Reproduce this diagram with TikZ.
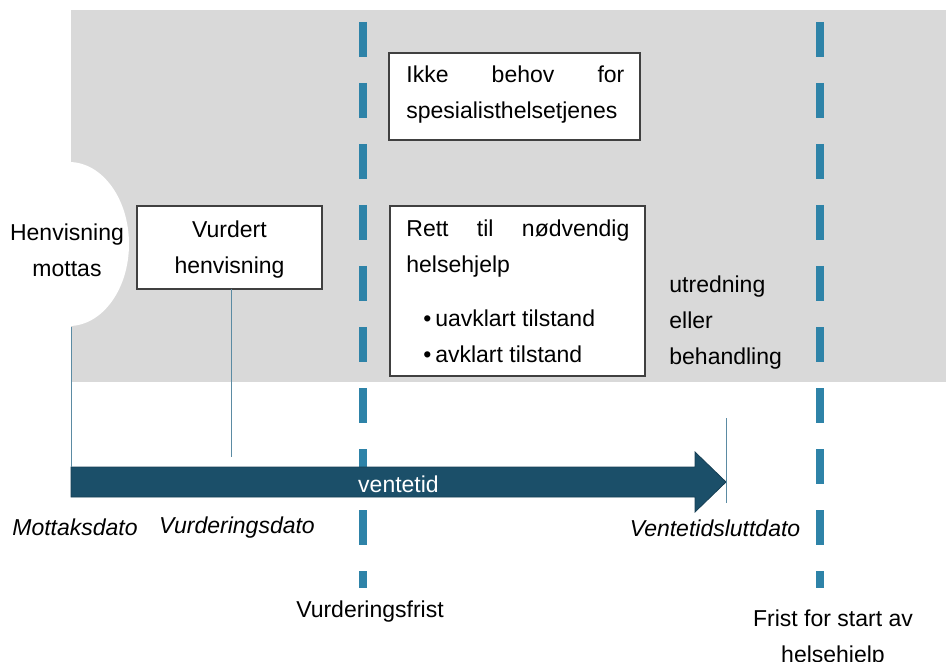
\documentclass[tikz,border=0pt]{standalone}
\usepackage{fontspec}
\setmainfont{Liberation Sans}
\definecolor{graybg}{HTML}{D9D9D9}
\definecolor{dashblue}{HTML}{2E83A8}
\definecolor{arrowblue}{HTML}{1B4F69}
\definecolor{tickc}{HTML}{5B8BA3}
\definecolor{boxline}{HTML}{404040}
\begin{document}
\begin{tikzpicture}[x=0.5pt,y=-0.5pt,
  font=\fontsize{11.5}{18}\selectfont,
  box/.style={draw=boxline, line width=0.6pt, fill=white, inner sep=0pt},
  lbl/.style={inner sep=0pt, align=center},
  itl/.style={inner sep=0pt, font=\fontsize{11.5}{18}\selectfont\itshape},
  tick/.style={draw=tickc, line width=0.5pt},
  deadline/.style={draw=dashblue, line width=4pt, dash pattern=on 17.5pt off 13pt}]
\useasboundingbox (0,0) rectangle (946,662);
% grey band
\fill[graybg] (71,10) rectangle (946,382);
\fill[white] (69,244) ellipse [x radius=30pt, y radius=41pt];
% deadlines
\coordinate (d1top) at (363,22);
\coordinate (d1bot) at (363,588);
\coordinate (d2top) at (820,22);
\coordinate (d2bot) at (820,588);
\draw[deadline] (d1top) -- (d1bot);
\draw[deadline] (d2top) -- (d2bot);
% nodes
\node[lbl] (henv) at (67,250) {Henvisning\\mottas};
\node[box, minimum width=92.5pt, minimum height=41.5pt] (vurd) at (229.5,247.5) {};
\node[lbl] (vurdtxt) at (229.5,250) {Vurdert\\henvisning};
\node[box, minimum width=125.5pt, minimum height=43.5pt] (ikke) at (514.5,96.5) {};
\node[inner sep=0pt, text width=109pt, align=left, anchor=west] (ikketxt) at (406,94.5)
  {\makebox[109pt][s]{Ikke\hfill behov\hfill for}\\spesialisthelsetjenes};
\node[box, minimum width=127.5pt, minimum height=85pt] (rett) at (517.5,291) {};
\node[inner sep=0pt, text width=111.5pt, align=left, anchor=west] (retttxt) at (406,249)
  {\makebox[111.5pt][s]{Rett\hfill til\hfill nødvendig}\\helsehjelp};
\node[inner sep=0pt, align=left, anchor=west] (bullets) at (423,336)
  {\textbullet\,uavklart tilstand\\\textbullet\,avklart tilstand};
\node[inner sep=0pt, align=left, anchor=west] (utr) at (669,322.5)
  {utredning\\eller\\behandling};
% time arrow
\coordinate (a0) at (71,467);
\coordinate (a1) at (71,497);
\coordinate (tip) at (726,482);
\fill[arrowblue, draw=arrowblue!80!black, line width=0.4pt]
  (a0) -- (695,467) -- (695,452) -- (tip) -- (695,512) -- (695,497) -- (a1) -- cycle;
\node[inner sep=0pt, text=white] (vent) at (398.5,484) {ventetid};
% ticks
\coordinate (henvbot) at (71,327);
\coordinate (vurdbot) at (231,289);
\coordinate (vurdend) at (231,457);
\coordinate (t1) at (726,418);
\coordinate (t2) at (726,503);
\draw[tick] (henvbot) -- (a0);
\draw[tick] (vurdbot) -- (vurdend);
\draw[tick] (t1) -- (t2);
% labels
\node[itl] (mott) at (75,527) {Mottaksdato};
\node[itl] (vdato) at (237,528) {Vurderingsdato};
\node[itl] (vslutt) at (715,528) {Ventetidsluttdato};
\node[lbl] (vfrist) at (370,612) {Vurderingsfrist};
\node[lbl] (frist) at (833,639) {Frist for start av\\helsehjelp};
\end{tikzpicture}
\end{document}
